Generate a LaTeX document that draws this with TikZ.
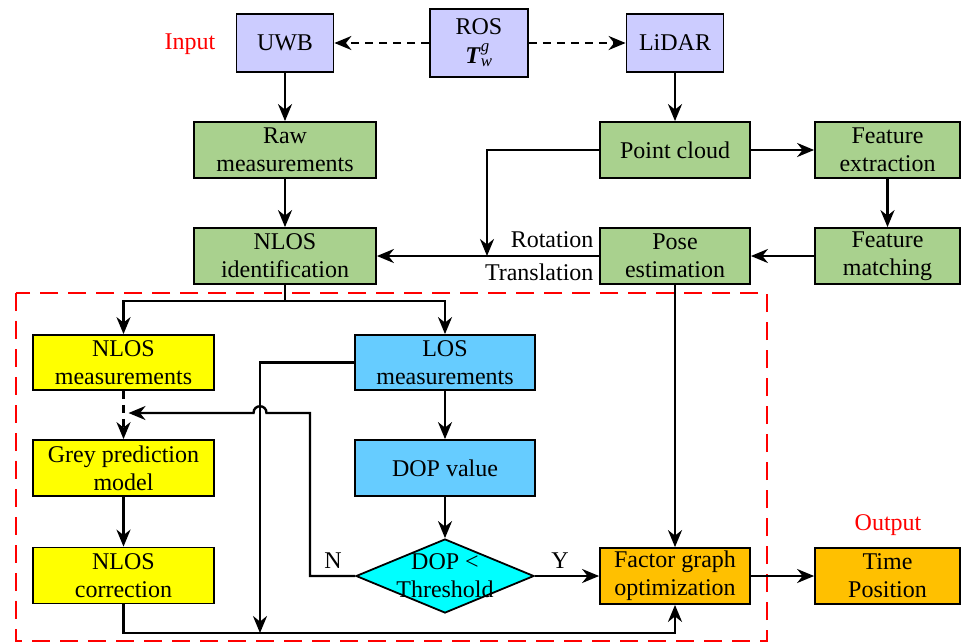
\documentclass[tikz,border=0pt]{standalone}
\usepackage{fontspec}
\setmainfont{Liberation Serif}
\usepackage{amsmath}
\usetikzlibrary{arrows.meta,shapes.geometric,calc}

\definecolor{rosblue}{HTML}{CCCCFF}
\definecolor{lidgreen}{HTML}{A9D18E}
\definecolor{nlosyellow}{HTML}{FFFF00}
\definecolor{losblue}{HTML}{66CCFF}
\definecolor{dopcyan}{HTML}{00FFFF}
\definecolor{outorange}{HTML}{FFC000}

\begin{document}
\begin{tikzpicture}[x=1pt,y=-1pt,
  every node/.style={font=\fontsize{24}{28}\selectfont},
  box/.style={draw, line width=1.8pt, align=center, inner sep=0pt,
              minimum height=56pt},
  topbox/.style={box, fill=rosblue, minimum width=97pt, minimum height=58pt},
  gbox/.style={box, fill=lidgreen},
  ybox/.style={box, fill=nlosyellow, minimum width=181pt},
  lbox/.style={box, fill=losblue, minimum width=180pt},
  obox/.style={box, fill=outorange},
  conn/.style={line width=2.4pt},
  arr/.style={conn, -{Stealth[length=17pt,width=14pt,inset=5.5pt]}},
  darr/.style={arr, dash pattern=on 8pt off 6pt},
  redframe/.style={draw=red, line width=2.8pt, dash pattern=on 18pt off 10pt},
  tag/.style={text=red},
]
\useasboundingbox (0,0) rectangle (963,643);

% input sources
\node[topbox] (uwb) at (285,43) {UWB};
\node[topbox, minimum width=98pt, minimum height=68pt] (ros) at (479,43)
  {ROS\\[1pt]\textbf{\textit{T}}$^{\textit{g}}_{\textit{w}}$};
\node[topbox] (lidar) at (675,43) {LiDAR};
\node[tag] (intag) at (190,44) {Input};

% LiDAR odometry chain
\node[gbox, minimum width=182pt] (raw) at (285,150) {Raw\\measurements};
\node[gbox, minimum width=150pt] (pc) at (675,150) {Point cloud};
\node[gbox, minimum width=145pt] (fe) at (887.5,150) {Feature\\extraction};
\node[gbox, minimum width=182pt] (nid) at (285,256) {NLOS\\identification};
\node[gbox, minimum width=150pt] (pose) at (675,256) {Pose\\estimation};
\node[gbox, minimum width=145pt] (fm) at (887.5,256) {Feature\\matching};
\node[anchor=east] (rot) at (597,240) {Rotation};
\node[anchor=east] (trans) at (597,272) {Translation};

% UWB processing block
\draw[redframe] (16,293) rectangle (767,641);
\node[ybox, minimum height=55pt] (nm) at (123.5,362.5) {NLOS\\measurements};
\node[lbox, minimum height=55pt] (losm) at (445,362.5) {LOS\\measurements};
\node[ybox] (grey) at (123.5,468) {Grey prediction\\model};
\node[lbox] (dopv) at (445,468) {DOP value};
\node[ybox] (corr) at (123.5,575.5) {NLOS\\correction};
\node[diamond, draw, line width=1.8pt, fill=dopcyan, inner sep=0pt,
      minimum width=178pt, minimum height=74pt] (dop) at (445,576) {};
\node[align=center, inner sep=0pt] (doptext) at (445,576) {DOP <\\Threshold};
\node[obox, minimum width=150pt] (fgo) at (675,576) {Factor graph\\optimization};
\node[obox, minimum width=145pt] (tp) at (887.5,576) {Time\\Position};
\node[tag] (outtag) at (888,525) {Output};
\node (nlab) at (333,561) {N};
\node (ylab) at (560,561) {Y};

% helper points for routed connectors
\coordinate (rotdrop) at (487,256);
\coordinate (split) at (285,301);
\coordinate (fbcorner) at (310,413);
\coordinate (hopR) at (266.5,413);
\coordinate (hopL) at (253.5,413);
\coordinate (fbend) at (123.5,413);
\coordinate (losdrop) at (260,633);
\coordinate (botL) at (123.5,633);
\coordinate (botR) at (675,633);

% connectors
\draw[darr] (ros.west) -- (uwb.east);
\draw[darr] (ros.east) -- (lidar.west);
\draw[arr] (uwb.south) -- (raw.north);
\draw[arr] (raw.south) -- (nid.north);
\draw[arr] (lidar.south) -- (pc.north);
\draw[arr] (pc.east) -- (fe.west);
\draw[arr] (fe.south) -- (fm.north);
\draw[arr] (fm.west) -- (pose.east);
\draw[arr] (pose.west) -- (nid.east);
\draw[arr] (pc.west) -| (rotdrop);
\draw[conn] (nid.south) -- (split);
\draw[arr] (split) -| (nm.north);
\draw[arr] (split) -| (losm.north);
\draw[darr] (nm.south) -- (grey.north);
\draw[arr] (grey.south) -- (corr.north);
\draw[arr] (losm.south) -- (dopv.north);
\draw[arr] (dopv.south) -- (dop.north);
\draw[arr] (dop.east) -- (fgo.west);
\draw[arr] (pose.south) -- (fgo.north);
\draw[arr] (fgo.east) -- (tp.west);
\draw[arr, shorten >=5pt] (dop.west) -| (fbcorner) -- (hopR)
  .. controls ($(hopR)+(0,-9)$) and ($(hopL)+(0,-9)$) .. (hopL) -- (fbend);
\draw[arr] (losm.west) -| (losdrop);
\draw[arr] (corr.south) -- (botL) -- (botR) -- (fgo.south);
\end{tikzpicture}
\end{document}
